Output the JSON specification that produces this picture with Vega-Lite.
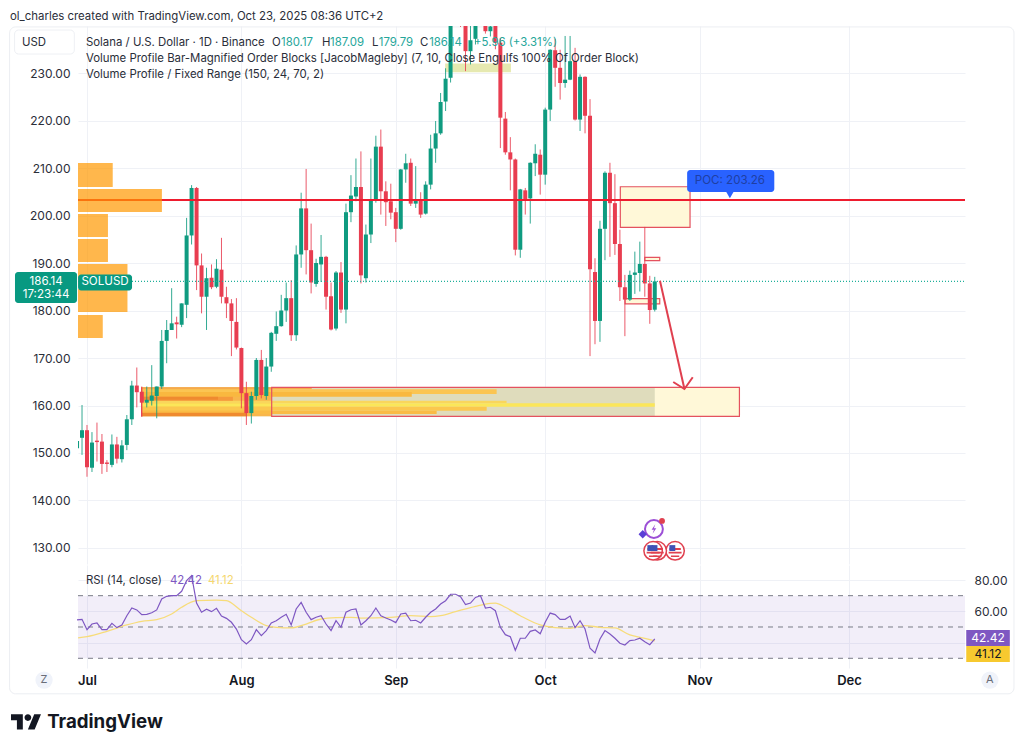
{"$schema":"https://vega.github.io/schema/vega-lite/v6.json","background":"white","padding":{"left":9,"top":10,"right":9,"bottom":9},"bounds":"flush","spacing":1,"config":{"view":{"stroke":null},"font":"Inter","axis":{"labelFont":"Inter"}},"datasets":{"candles":[{"d":"2025-06-29","o":151,"h":153.4,"l":150.6,"c":152.5},{"d":"2025-06-30","o":153.2,"h":160.1,"l":149.6,"c":154.8},{"d":"2025-07-01","o":154.8,"h":155.9,"l":145,"c":147},{"d":"2025-07-02","o":146.9,"h":154.4,"l":146,"c":152.2},{"d":"2025-07-03","o":152.6,"h":156.4,"l":148.2,"c":152.3},{"d":"2025-07-04","o":152.4,"h":154,"l":145.6,"c":147.7},{"d":"2025-07-05","o":148,"h":148.5,"l":146,"c":147.7},{"d":"2025-07-06","o":147.5,"h":153.9,"l":147,"c":151.8},{"d":"2025-07-07","o":151.8,"h":153.4,"l":147.8,"c":148.8},{"d":"2025-07-08","o":148.7,"h":152.7,"l":148,"c":151.6},{"d":"2025-07-09","o":151.7,"h":158,"l":150.6,"c":157.1},{"d":"2025-07-10","o":157.1,"h":165.2,"l":155.9,"c":164.2},{"d":"2025-07-11","o":164.2,"h":168,"l":159.6,"c":162.8},{"d":"2025-07-12","o":162.9,"h":164,"l":157.6,"c":160.6},{"d":"2025-07-13","o":160.6,"h":164,"l":159.6,"c":161.2},{"d":"2025-07-14","o":161,"h":168.5,"l":160,"c":162.1},{"d":"2025-07-15","o":162,"h":164,"l":157.3,"c":164},{"d":"2025-07-16","o":164,"h":175.9,"l":163.5,"c":173.6},{"d":"2025-07-17","o":173.6,"h":178,"l":168.9,"c":175.9},{"d":"2025-07-18","o":175.9,"h":184.7,"l":175.9,"c":177.3},{"d":"2025-07-19","o":177.5,"h":178.7,"l":174.1,"c":177.1},{"d":"2025-07-20","o":177,"h":181.5,"l":176.5,"c":181.5},{"d":"2025-07-21","o":181.2,"h":199.5,"l":178.4,"c":195.8},{"d":"2025-07-22","o":195.8,"h":206.4,"l":193.9,"c":205.8},{"d":"2025-07-23","o":205.8,"h":206,"l":184.3,"c":189.5},{"d":"2025-07-24","o":189.5,"h":192,"l":179.4,"c":182.9},{"d":"2025-07-25","o":182.9,"h":189,"l":175.9,"c":186.8},{"d":"2025-07-26","o":186.9,"h":189.7,"l":184.5,"c":184.9},{"d":"2025-07-27","o":185,"h":190.8,"l":184.7,"c":188.8},{"d":"2025-07-28","o":188.6,"h":195.3,"l":181.5,"c":182.9},{"d":"2025-07-29","o":182.8,"h":185,"l":178.4,"c":181.5},{"d":"2025-07-30","o":181.5,"h":182.4,"l":170.4,"c":177.8},{"d":"2025-07-31","o":177.6,"h":182.6,"l":171.8,"c":172.2},{"d":"2025-08-01","o":172.1,"h":172.2,"l":159.4,"c":162.6},{"d":"2025-08-02","o":162.6,"h":165,"l":155.9,"c":158.4},{"d":"2025-08-03","o":158.4,"h":162.9,"l":156.2,"c":162},{"d":"2025-08-04","o":162,"h":170,"l":161.2,"c":169.6},{"d":"2025-08-05","o":169.6,"h":171.7,"l":161.5,"c":162.2},{"d":"2025-08-06","o":162,"h":170,"l":161.2,"c":168.2},{"d":"2025-08-07","o":168.2,"h":175.5,"l":167.1,"c":175.3},{"d":"2025-08-08","o":175.1,"h":179.8,"l":173.6,"c":176.7},{"d":"2025-08-09","o":176.7,"h":183.3,"l":176.6,"c":180},{"d":"2025-08-10","o":180,"h":185.9,"l":177.6,"c":182.6},{"d":"2025-08-11","o":182.6,"h":186.4,"l":173.6,"c":174.8},{"d":"2025-08-12","o":174.8,"h":193.7,"l":173.6,"c":191.8},{"d":"2025-08-13","o":191.8,"h":204.8,"l":189,"c":201.5},{"d":"2025-08-14","o":201.5,"h":209.8,"l":187.6,"c":192.7},{"d":"2025-08-15","o":192.7,"h":198.3,"l":183.6,"c":185.9},{"d":"2025-08-16","o":185.6,"h":190.9,"l":185,"c":190},{"d":"2025-08-17","o":189.7,"h":195.9,"l":186,"c":191.3},{"d":"2025-08-18","o":191.3,"h":191.5,"l":180.2,"c":182.9},{"d":"2025-08-19","o":183,"h":185.9,"l":175.8,"c":176},{"d":"2025-08-20","o":176.2,"h":188.3,"l":175.8,"c":188},{"d":"2025-08-21","o":188,"h":190.2,"l":179.5,"c":180.2},{"d":"2025-08-22","o":180.2,"h":202.5,"l":177.3,"c":200.7},{"d":"2025-08-23","o":200.7,"h":208.5,"l":198.6,"c":204.2},{"d":"2025-08-24","o":204,"h":212,"l":203,"c":206},{"d":"2025-08-25","o":206,"h":213.5,"l":185.7,"c":187.4},{"d":"2025-08-26","o":186.8,"h":198.1,"l":185.9,"c":196},{"d":"2025-08-27","o":196,"h":212,"l":194.2,"c":203.4},{"d":"2025-08-28","o":203.2,"h":216.8,"l":202.7,"c":214.5},{"d":"2025-08-29","o":214.5,"h":218.1,"l":200.2,"c":205.1},{"d":"2025-08-30","o":205.1,"h":207.2,"l":197.8,"c":202.8},{"d":"2025-08-31","o":203,"h":206.7,"l":199.2,"c":200.6},{"d":"2025-09-01","o":200.7,"h":201.6,"l":194.4,"c":197.2},{"d":"2025-09-02","o":197.2,"h":209.8,"l":197,"c":209.7},{"d":"2025-09-03","o":209.7,"h":213,"l":206.9,"c":211},{"d":"2025-09-04","o":211.1,"h":212,"l":202,"c":202.5},{"d":"2025-09-05","o":202.5,"h":210.4,"l":201.6,"c":203.4},{"d":"2025-09-06","o":203.4,"h":204.9,"l":199.5,"c":200.2},{"d":"2025-09-07","o":200.4,"h":207.2,"l":200.2,"c":206.5},{"d":"2025-09-08","o":206.5,"h":217,"l":205.5,"c":214.1},{"d":"2025-09-09","o":214.1,"h":219.9,"l":211.1,"c":217.3},{"d":"2025-09-10","o":217.3,"h":225.8,"l":217,"c":223.9},{"d":"2025-09-11","o":224,"h":231,"l":222,"c":228.8},{"d":"2025-09-12","o":229,"h":246,"l":228,"c":241},{"d":"2025-09-13","o":241,"h":247,"l":240.5,"c":244},{"d":"2025-09-14","o":244,"h":246,"l":239.7,"c":241.5},{"d":"2025-09-15","o":241.5,"h":245,"l":230.4,"c":234.6},{"d":"2025-09-16","o":234.6,"h":240,"l":231.8,"c":236.9},{"d":"2025-09-17","o":237.2,"h":249,"l":236,"c":243},{"d":"2025-09-18","o":243,"h":250,"l":241,"c":246},{"d":"2025-09-19","o":244,"h":248,"l":238.3,"c":238.8},{"d":"2025-09-20","o":238.8,"h":243,"l":237.7,"c":239.8},{"d":"2025-09-21","o":241,"h":244,"l":235,"c":236.4},{"d":"2025-09-22","o":236.4,"h":237.4,"l":214.2,"c":220.6},{"d":"2025-09-23","o":220.4,"h":221.8,"l":212.8,"c":213.3},{"d":"2025-09-24","o":213.3,"h":216.5,"l":205.3,"c":211.8},{"d":"2025-09-25","o":211.8,"h":212,"l":191.6,"c":192.8},{"d":"2025-09-26","o":192.8,"h":205.6,"l":191.1,"c":205.5},{"d":"2025-09-27","o":205.3,"h":205.8,"l":200.2,"c":203.4},{"d":"2025-09-28","o":203.6,"h":211.2,"l":198.3,"c":211.1},{"d":"2025-09-29","o":211,"h":215,"l":208.3,"c":213},{"d":"2025-09-30","o":212.8,"h":213.9,"l":204.4,"c":208.6},{"d":"2025-10-01","o":208.6,"h":222.7,"l":206.5,"c":222.3},{"d":"2025-10-02","o":222.3,"h":235,"l":219.9,"c":234.9},{"d":"2025-10-03","o":234.8,"h":237.2,"l":227.1,"c":231.1},{"d":"2025-10-04","o":231.1,"h":234.9,"l":224.4,"c":227.9},{"d":"2025-10-05","o":227.9,"h":237.8,"l":226.9,"c":228.6},{"d":"2025-10-06","o":228.6,"h":237.8,"l":228.5,"c":232.5},{"d":"2025-10-07","o":232.5,"h":235.3,"l":220,"c":220.2},{"d":"2025-10-08","o":220.2,"h":229.7,"l":217.8,"c":229.2},{"d":"2025-10-09","o":229.2,"h":229.3,"l":217.3,"c":221},{"d":"2025-10-10","o":221,"h":224.5,"l":170.4,"c":188.7},{"d":"2025-10-11","o":188.1,"h":191,"l":172.9,"c":177.8},{"d":"2025-10-12","o":177.8,"h":198.9,"l":173.4,"c":197.2},{"d":"2025-10-13","o":197.2,"h":209.3,"l":190.6,"c":209},{"d":"2025-10-14","o":209,"h":211.1,"l":191.3,"c":202.6},{"d":"2025-10-15","o":202.6,"h":208.7,"l":191.7,"c":194},{"d":"2025-10-16","o":194,"h":197,"l":182,"c":184.9},{"d":"2025-10-17","o":184.9,"h":187.5,"l":174.6,"c":182.3},{"d":"2025-10-18","o":182.3,"h":188.4,"l":182,"c":187.5},{"d":"2025-10-19","o":187.5,"h":192.4,"l":183.5,"c":188},{"d":"2025-10-20","o":187.9,"h":194.5,"l":184,"c":189.8},{"d":"2025-10-21","o":189.8,"h":197.6,"l":182.9,"c":185.7},{"d":"2025-10-22","o":185.7,"h":187.3,"l":177.2,"c":180.1},{"d":"2025-10-23","o":180.17,"h":187.09,"l":179.79,"c":186.14}],"rsi":[{"d":"2025-06-29","v":54.5},{"d":"2025-06-30","v":54.9},{"d":"2025-07-01","v":48.3},{"d":"2025-07-02","v":51.9},{"d":"2025-07-03","v":52.6},{"d":"2025-07-04","v":48.3},{"d":"2025-07-05","v":48.3},{"d":"2025-07-06","v":52.3},{"d":"2025-07-07","v":49.6},{"d":"2025-07-08","v":51.3},{"d":"2025-07-09","v":57.2},{"d":"2025-07-10","v":62.1},{"d":"2025-07-11","v":60.9},{"d":"2025-07-12","v":57.9},{"d":"2025-07-13","v":58.1},{"d":"2025-07-14","v":59.1},{"d":"2025-07-15","v":60.9},{"d":"2025-07-16","v":67.9},{"d":"2025-07-17","v":69.6},{"d":"2025-07-18","v":70},{"d":"2025-07-19","v":70},{"d":"2025-07-20","v":72.8},{"d":"2025-07-21","v":79.6},{"d":"2025-07-22","v":82.8},{"d":"2025-07-23","v":65.3},{"d":"2025-07-24","v":59.4},{"d":"2025-07-25","v":61.3},{"d":"2025-07-26","v":59.8},{"d":"2025-07-27","v":61.9},{"d":"2025-07-28","v":57},{"d":"2025-07-29","v":55.5},{"d":"2025-07-30","v":53},{"d":"2025-07-31","v":48.7},{"d":"2025-08-01","v":41.9},{"d":"2025-08-02","v":39.1},{"d":"2025-08-03","v":41.9},{"d":"2025-08-04","v":48.3},{"d":"2025-08-05","v":44.5},{"d":"2025-08-06","v":47.7},{"d":"2025-08-07","v":52.6},{"d":"2025-08-08","v":54},{"d":"2025-08-09","v":56.2},{"d":"2025-08-10","v":58.1},{"d":"2025-08-11","v":51.3},{"d":"2025-08-12","v":61.5},{"d":"2025-08-13","v":65.7},{"d":"2025-08-14","v":59.4},{"d":"2025-08-15","v":54.7},{"d":"2025-08-16","v":56.2},{"d":"2025-08-17","v":57.2},{"d":"2025-08-18","v":51.9},{"d":"2025-08-19","v":47.7},{"d":"2025-08-20","v":54},{"d":"2025-08-21","v":49.8},{"d":"2025-08-22","v":59.4},{"d":"2025-08-23","v":61},{"d":"2025-08-24","v":61.5},{"d":"2025-08-25","v":51.3},{"d":"2025-08-26","v":54},{"d":"2025-08-27","v":57.2},{"d":"2025-08-28","v":62.1},{"d":"2025-08-29","v":57.2},{"d":"2025-08-30","v":55.7},{"d":"2025-08-31","v":54.5},{"d":"2025-09-01","v":52.8},{"d":"2025-09-02","v":58.3},{"d":"2025-09-03","v":58.9},{"d":"2025-09-04","v":54},{"d":"2025-09-05","v":54.3},{"d":"2025-09-06","v":52.6},{"d":"2025-09-07","v":56.2},{"d":"2025-09-08","v":59.4},{"d":"2025-09-09","v":61.5},{"d":"2025-09-10","v":64.7},{"d":"2025-09-11","v":66.8},{"d":"2025-09-12","v":70.9},{"d":"2025-09-13","v":70.9},{"d":"2025-09-14","v":69.4},{"d":"2025-09-15","v":64.3},{"d":"2025-09-16","v":65.3},{"d":"2025-09-17","v":68.9},{"d":"2025-09-18","v":70},{"d":"2025-09-19","v":62.1},{"d":"2025-09-20","v":62.6},{"d":"2025-09-21","v":60.4},{"d":"2025-09-22","v":49.8},{"d":"2025-09-23","v":45.1},{"d":"2025-09-24","v":43.8},{"d":"2025-09-25","v":35.1},{"d":"2025-09-26","v":42.8},{"d":"2025-09-27","v":42.8},{"d":"2025-09-28","v":47.2},{"d":"2025-09-29","v":48.1},{"d":"2025-09-30","v":45.7},{"d":"2025-10-01","v":53},{"d":"2025-10-02","v":58.9},{"d":"2025-10-03","v":57.9},{"d":"2025-10-04","v":54.9},{"d":"2025-10-05","v":54.9},{"d":"2025-10-06","v":57},{"d":"2025-10-07","v":49.6},{"d":"2025-10-08","v":54},{"d":"2025-10-09","v":48.7},{"d":"2025-10-10","v":36.4},{"d":"2025-10-11","v":33.4},{"d":"2025-10-12","v":42.3},{"d":"2025-10-13","v":47.7},{"d":"2025-10-14","v":45.5},{"d":"2025-10-15","v":42.8},{"d":"2025-10-16","v":39.6},{"d":"2025-10-17","v":38.5},{"d":"2025-10-18","v":41.3},{"d":"2025-10-19","v":41.7},{"d":"2025-10-20","v":42.8},{"d":"2025-10-21","v":40.6},{"d":"2025-10-22","v":38.7},{"d":"2025-10-23","v":42.42}],"rsima":[{"d":"2025-06-29T05:00:00Z","v":43},{"d":"2025-07-01","v":43.8},{"d":"2025-07-05","v":47.2},{"d":"2025-07-09","v":51.3},{"d":"2025-07-12","v":53.6},{"d":"2025-07-15","v":54.7},{"d":"2025-07-18","v":58.3},{"d":"2025-07-20","v":62.6},{"d":"2025-07-23","v":66.8},{"d":"2025-07-27","v":67.2},{"d":"2025-07-29","v":66.8},{"d":"2025-08-01","v":60.4},{"d":"2025-08-03","v":56.2},{"d":"2025-08-06","v":50.9},{"d":"2025-08-08","v":49.8},{"d":"2025-08-11","v":49.4},{"d":"2025-08-14","v":51.9},{"d":"2025-08-17","v":55.1},{"d":"2025-08-20","v":56},{"d":"2025-08-23","v":56.2},{"d":"2025-08-25","v":55.7},{"d":"2025-08-31","v":56.2},{"d":"2025-09-04","v":57.2},{"d":"2025-09-08","v":56.6},{"d":"2025-09-10","v":57.2},{"d":"2025-09-13","v":59.8},{"d":"2025-09-17","v":63.2},{"d":"2025-09-20","v":65.1},{"d":"2025-09-21","v":65.3},{"d":"2025-09-23","v":62.6},{"d":"2025-09-26","v":57.2},{"d":"2025-09-30","v":51.3},{"d":"2025-10-03","v":49.6},{"d":"2025-10-06","v":49.1},{"d":"2025-10-09","v":50.9},{"d":"2025-10-12","v":49.8},{"d":"2025-10-15","v":49.4},{"d":"2025-10-18","v":44.9},{"d":"2025-10-21","v":42.8},{"d":"2025-10-23","v":41.12}],"zones":[{"s":"2025-09-10T22:00:00Z","e":"2025-09-24T03:00:00Z","p1":232,"p2":230.15,"kind":"block"},{"s":"2025-10-16T02:00:00Z","e":"2025-10-30T02:00:00Z","p1":206.06,"p2":197.5,"kind":"cream"},{"s":"2025-10-21T00:00:00Z","e":"2025-10-24T00:00:00Z","p1":191.2,"p2":190.5,"kind":"cream"},{"s":"2025-10-17T01:00:00Z","e":"2025-10-24T00:00:00Z","p1":182.5,"p2":181.4,"kind":"cream"},{"s":"2025-08-07T02:00:00Z","e":"2025-11-09T00:00:00Z","p1":163.83,"p2":157.73,"kind":"cream"},{"s":"2025-07-11T23:00:00Z","e":"2025-10-23T00:00:00Z","p1":163.83,"p2":157.73,"kind":"gray"},{"s":"2025-07-11T23:00:00Z","e":"2025-08-07T02:00:00Z","p1":163.83,"p2":157.73,"kind":"left"},{"s":"2025-07-11T23:00:00Z","e":"2025-08-15T03:00:00Z","p1":163.83,"p2":163.41,"kind":"top"},{"s":"2025-07-11T23:00:00Z","e":"2025-09-21T06:00:00Z","p1":163.41,"p2":162.42,"kind":"amber"},{"s":"2025-07-11T23:00:00Z","e":"2025-09-04T05:00:00Z","p1":162.84,"p2":161.85,"kind":"deep"},{"s":"2025-07-11T23:00:00Z","e":"2025-09-23T06:00:00Z","p1":161.01,"p2":160.46,"kind":"pale"},{"s":"2025-07-11T23:00:00Z","e":"2025-10-23T00:00:00Z","p1":160.46,"p2":159.75,"kind":"bright"},{"s":"2025-07-11T23:00:00Z","e":"2025-09-19T06:00:00Z","p1":159.75,"p2":158.91,"kind":"gold"},{"s":"2025-07-11T23:00:00Z","e":"2025-09-09T05:00:00Z","p1":158.91,"p2":158.21,"kind":"orange"},{"s":"2025-07-11T23:00:00Z","e":"2025-07-30T07:00:00Z","p1":161.85,"p2":161.01,"kind":"mid"},{"s":"2025-07-11T23:00:00Z","e":"2025-07-27T07:00:00Z","p1":161.85,"p2":161.2,"kind":"dark"},{"s":"2025-07-11T23:00:00Z","e":"2025-08-02T02:00:00Z","p1":158.48,"p2":157.73,"kind":"dark"}],"boxes":[{"s":"2025-10-16T02:00:00Z","e":"2025-10-30T02:00:00Z","p1":206.06,"p2":197.5},{"s":"2025-10-21T00:00:00Z","e":"2025-10-24T00:00:00Z","p1":191.2,"p2":190.5},{"s":"2025-10-17T01:00:00Z","e":"2025-10-24T00:00:00Z","p1":182.5,"p2":181.4},{"s":"2025-08-07T02:00:00Z","e":"2025-11-09T00:00:00Z","p1":163.83,"p2":157.73}],"boxEdge":[{"d":"2025-07-11T23:00:00Z","p1":163.83,"p2":157.73}],"profile":[{"s":"2025-06-29T04:38:00Z","e":"2025-07-06T04:00:00Z","p1":211.05,"p2":206},{"s":"2025-06-29T04:38:00Z","e":"2025-07-16T01:00:00Z","p1":205.58,"p2":200.74},{"s":"2025-06-29T04:38:00Z","e":"2025-07-05T05:00:00Z","p1":200.32,"p2":195.47},{"s":"2025-06-29T04:38:00Z","e":"2025-07-05T05:00:00Z","p1":195.05,"p2":190.21},{"s":"2025-06-29T04:38:00Z","e":"2025-07-09T03:00:00Z","p1":189.79,"p2":184.95},{"s":"2025-06-29T04:38:00Z","e":"2025-07-09T03:00:00Z","p1":184.53,"p2":179.68},{"s":"2025-06-29T04:38:00Z","e":"2025-07-04T04:00:00Z","p1":179.05,"p2":174.21}],"levels":[{"name":"POC","s":"2025-06-29T04:38:00Z","e":"2025-12-24T07:00:00Z","p":203.26},{"name":"last","s":"2025-06-29T04:38:00Z","e":"2025-12-24T07:00:00Z","p":186.14}],"arrow":[{"part":"shaft","d":"2025-10-24T01:00:00Z","p":186.27},{"part":"shaft","d":"2025-10-28T23:00:00Z","p":163.47},{"part":"head","d":"2025-10-26T17:00:00Z","p":164.95},{"part":"head","d":"2025-10-28T23:00:00Z","p":163.47},{"part":"head","d":"2025-10-30T15:00:00Z","p":165.94}],"tags":[{"s":"2025-10-29T12:00:00Z","e":"2025-11-16T00:00:00Z","p1":209.6,"p2":204.95,"kind":"poc"},{"s":"2025-06-16T13:00:00Z","e":"2025-06-29T00:00:00Z","p1":188.1,"p2":181.6,"kind":"price"},{"s":"2025-06-29T05:00:00Z","e":"2025-07-10T01:00:00Z","p1":187.6,"p2":184.2,"kind":"price"}],"notes":[{"d":"2025-06-15T13:00:00Z","p":242.2,"t":"ol_charles created with TradingView.com, Oct 23, 2025 08:36 UTC+2","tone":"ink"},{"d":"2025-06-17T23:00:00Z","p":236.7,"t":"USD","tone":"ink"},{"d":"2025-06-30T19:00:00Z","p":236.74,"t":"Solana / U.S. Dollar · 1D · Binance","tone":"ink"},{"d":"2025-08-07T04:00:00Z","p":236.74,"t":"O","tone":"ink"},{"d":"2025-08-08T23:00:00Z","p":236.74,"t":"180.17","tone":"up"},{"d":"2025-08-17T05:00:00Z","p":236.74,"t":"H","tone":"ink"},{"d":"2025-08-18T19:00:00Z","p":236.74,"t":"187.09","tone":"up"},{"d":"2025-08-27T05:00:00Z","p":236.74,"t":"L","tone":"ink"},{"d":"2025-08-28T14:00:00Z","p":236.74,"t":"179.79","tone":"up"},{"d":"2025-09-05T21:00:00Z","p":236.74,"t":"C","tone":"ink"},{"d":"2025-09-07T17:00:00Z","p":236.74,"t":"186.14","tone":"up"},{"d":"2025-09-16T17:00:00Z","p":236.74,"t":"+5.96 (+3.31%)","tone":"up"},{"d":"2025-06-30T19:00:00Z","p":233.37,"t":"Volume Profile Bar-Magnified Order Blocks [JacobMagleby] (7, 10, Close Engulfs 100% Of Order Block)","tone":"ink"},{"d":"2025-06-30T19:00:00Z","p":230,"t":"Volume Profile / Fixed Range (150, 24, 70, 2)","tone":"ink"}],"centered":[{"d":"2025-11-07T02:00:00Z","p":207.26,"t":"POC: 203.26","tone":"navy"},{"d":"2025-06-22T19:00:00Z","p":186.1,"t":"186.14","tone":"white"},{"d":"2025-06-22T19:00:00Z","p":183.26,"t":"17:23:44","tone":"white"},{"d":"2025-07-04T15:00:00Z","p":186,"t":"SOLUSD","tone":"white"}],"card":[{"s":"2025-06-15T11:00:00Z","e":"2026-01-03T03:00:00Z","p1":239.7,"p2":99.3,"name":"card"},{"s":"2025-06-16T11:00:00Z","e":"2025-06-28T11:00:00Z","p1":239.05,"p2":234,"name":"usd"}],"brand":[{"d":"2025-06-23T00:00:00Z","p":93.4,"t":"TradingView"}],"logo":[{"d":"2025-06-18T19:00:00Z","p":93.4}],"flags":[{"d":"2025-10-27T02:00:00Z","p":129.4},{"d":"2025-10-23T12:00:00Z","p":129.4},{"d":"2025-10-22T16:00:00Z","p":129.4}],"spark":[{"d":"2025-10-22T20:00:00Z","p":134}],"sparkdot":[{"d":"2025-10-24T11:00:00Z","p":135.7,"kind":"dot"},{"d":"2025-10-20T14:00:00Z","p":132.9,"kind":"star"}],"rsiNotes":[{"d":"2025-06-30T19:00:00Z","v":80,"t":"RSI (14, close)","tone":"ink"},{"d":"2025-07-17T16:00:00Z","v":80,"t":"42.42","tone":"rsi"},{"d":"2025-07-25T07:00:00Z","v":80,"t":"41.12","tone":"ma"}],"rsiBand":[{"s":"2025-06-29T04:38:00Z","e":"2025-12-24T07:00:00Z","a":70,"b":30}],"rsiLevels":[{"s":"2025-06-29T04:38:00Z","e":"2025-12-24T07:00:00Z","v":70},{"s":"2025-06-29T04:38:00Z","e":"2025-12-24T07:00:00Z","v":50},{"s":"2025-06-29T04:38:00Z","e":"2025-12-24T07:00:00Z","v":30}],"rsiBadges":[{"s":"2025-12-24T13:00:00Z","e":"2026-01-02T07:00:00Z","a":48.1,"b":37.9,"kind":"rsi"},{"s":"2025-12-24T13:00:00Z","e":"2026-01-02T07:00:00Z","a":37.9,"b":27.6,"kind":"ma"}],"rsiBadgeText":[{"d":"2025-12-28T22:00:00Z","v":43,"t":"42.42","tone":"white"},{"d":"2025-12-28T22:00:00Z","v":32.75,"t":"41.12","tone":"ink"}],"corner":[{"d":"2025-06-22T09:00:00Z","v":16.1,"t":"Z"},{"d":"2025-12-29T07:00:00Z","v":16.1,"t":"A"}]},"vconcat":[{"width":887,"height":538,"encoding":{"x":{"field":"d","type":"temporal","title":null,"scale":{"type":"utc","nice":false,"padding":0,"domain":["2025-06-29T04:38:00Z","2025-12-24T07:00:00Z"]},"axis":{"labels":false,"ticks":false,"domain":false,"grid":true,"gridColor":"#eff1f6","tickCount":"month"}},"y":{"field":"p","type":"quantitative","title":null,"scale":{"domain":[126.63,239.9],"nice":false,"zero":false},"axis":{"values":[130,140,150,160,170,180,190,200,210,220,230],"format":".2f","ticks":false,"domain":false,"grid":true,"gridColor":"#eff1f6","labelColor":"#2a2e39","labelFontSize":12,"labelPadding":8}}},"resolve":{"scale":{"color":"independent"}},"layer":[{"data":{"name":"card"},"transform":[{"filter":"datum.name=='card'"}],"mark":{"type":"rect","fill":null,"stroke":"#eceef2","strokeWidth":1,"cornerRadius":6},"encoding":{"x":{"field":"s","type":"temporal"},"x2":{"field":"e"},"y":{"field":"p1","type":"quantitative"},"y2":{"field":"p2"}}},{"data":{"name":"zones"},"mark":{"type":"rect"},"encoding":{"x":{"field":"s","type":"temporal"},"x2":{"field":"e"},"y":{"field":"p1","type":"quantitative"},"y2":{"field":"p2"},"color":{"field":"kind","type":"nominal","legend":null,"scale":{"domain":["block","cream","gray","left","top","amber","deep","pale","bright","gold","orange","mid","dark"],"range":["#e6e9b0","#fff8d8","#dfdcbc","#f8b64c","#f6a94c","#fbc552","#f9b83f","#f9d65c","#fbe659","#fbc74e","#fabb45","#f59a3c","#ef8a2f"]}}}},{"data":{"name":"boxes"},"mark":{"type":"rect","fill":null,"stroke":"#e4525f","strokeWidth":1.2},"encoding":{"x":{"field":"s","type":"temporal"},"x2":{"field":"e"},"y":{"field":"p1","type":"quantitative"},"y2":{"field":"p2"}}},{"data":{"name":"boxEdge"},"mark":{"type":"rule","color":"#e4525f","strokeWidth":1.2},"encoding":{"y":{"field":"p1","type":"quantitative"},"y2":{"field":"p2"}}},{"data":{"name":"candles"},"mark":{"type":"rule","clip":true,"strokeWidth":1,"opacity":0.85},"encoding":{"y":{"field":"l","type":"quantitative"},"y2":{"field":"h"},"color":{"condition":{"test":"datum.c>=datum.o","value":"#0f9b80"},"value":"#e83d50"}}},{"data":{"name":"candles"},"mark":{"type":"bar","clip":true,"size":4,"orient":"vertical"},"encoding":{"y":{"field":"o","type":"quantitative"},"y2":{"field":"c"},"color":{"condition":{"test":"datum.c>=datum.o","value":"#0f9b80"},"value":"#e83d50"}}},{"data":{"name":"levels"},"transform":[{"filter":"datum.name=='last'"}],"mark":{"type":"rule","color":"#1fb09a","strokeWidth":1.1,"strokeDash":[1,2]},"encoding":{"x":{"field":"s","type":"temporal"},"x2":{"field":"e"},"y":{"field":"p","type":"quantitative"}}},{"data":{"name":"levels"},"transform":[{"filter":"datum.name=='POC'"}],"mark":{"type":"rule","color":"#ee1c2e","strokeWidth":2},"encoding":{"x":{"field":"s","type":"temporal"},"x2":{"field":"e"},"y":{"field":"p","type":"quantitative"}}},{"data":{"name":"arrow"},"mark":{"type":"line","color":"#e0404f","strokeWidth":2},"encoding":{"detail":{"field":"part"}}},{"data":{"name":"profile"},"mark":{"type":"rect","color":"#ff9800","opacity":0.7},"encoding":{"x":{"field":"s","type":"temporal"},"x2":{"field":"e"},"y":{"field":"p1","type":"quantitative"},"y2":{"field":"p2"}}},{"data":{"name":"card"},"transform":[{"filter":"datum.name=='usd'"}],"mark":{"type":"rect","fill":"white","stroke":"#eef0f4","cornerRadius":4},"encoding":{"x":{"field":"s","type":"temporal"},"x2":{"field":"e"},"y":{"field":"p1","type":"quantitative"},"y2":{"field":"p2"}}},{"data":{"name":"tags"},"mark":{"type":"rect","cornerRadius":3},"encoding":{"x":{"field":"s","type":"temporal"},"x2":{"field":"e"},"y":{"field":"p1","type":"quantitative"},"y2":{"field":"p2"},"color":{"field":"kind","type":"nominal","legend":null,"scale":{"domain":["poc","price"],"range":["#2962ff","#089981"]}}}},{"data":{"values":[{"d":"2025-11-07T02:00:00Z","p":204.4}]},"mark":{"type":"point","shape":"triangle-down","filled":true,"color":"#2962ff","size":70,"opacity":1}},{"data":{"name":"flags"},"mark":{"type":"point","shape":"circle","filled":true,"fill":"white","stroke":"#e0404f","strokeWidth":1.5,"size":340,"opacity":1}},{"data":{"name":"flags"},"mark":{"type":"point","shape":"M-0.62 -0.3H0.62V-0.08H-0.62ZM-0.7 0.1H0.7V0.3H-0.7ZM-0.45 0.5H0.45V0.68H-0.45Z","filled":true,"color":"#e0404f","size":340,"opacity":1}},{"data":{"name":"flags"},"mark":{"type":"point","shape":"M-0.62 -0.62H0.02V0.02H-0.62Z","filled":true,"color":"#3f51b5","size":340,"opacity":1}},{"data":{"name":"spark"},"mark":{"type":"point","shape":"circle","filled":false,"stroke":"#9c4fd6","strokeWidth":2,"size":320,"opacity":1}},{"data":{"name":"spark"},"mark":{"type":"point","shape":"M0.2 -0.7L-0.35 0.1H0L-0.2 0.7L0.35 -0.1H0Z","filled":true,"color":"#9c4fd6","size":180,"opacity":1}},{"data":{"name":"sparkdot"},"transform":[{"filter":"datum.kind=='dot'"}],"mark":{"type":"point","shape":"circle","filled":true,"color":"#e0404f","size":34,"opacity":1}},{"data":{"name":"sparkdot"},"transform":[{"filter":"datum.kind=='star'"}],"mark":{"type":"point","shape":"diamond","filled":true,"color":"#5b3fd6","size":70,"opacity":1}},{"data":{"name":"notes"},"mark":{"type":"text","align":"left","baseline":"middle","fontSize":11.4,"dy":1.5},"encoding":{"text":{"field":"t"},"color":{"field":"tone","type":"nominal","legend":null,"scale":{"domain":["ink","up"],"range":["#2a2e39","#26a69a"]}}}},{"data":{"name":"centered"},"mark":{"type":"text","align":"center","baseline":"middle","fontSize":11.6},"encoding":{"text":{"field":"t"},"color":{"field":"tone","type":"nominal","legend":null,"scale":{"domain":["navy","white"],"range":["#1f3fa3","#ffffff"]}}}},{"data":{"name":"brand"},"mark":{"type":"text","align":"left","baseline":"middle","fontSize":18.7,"fontWeight":700,"color":"#131722","font":"Inter"},"encoding":{"text":{"field":"t"}}},{"data":{"name":"logo"},"mark":{"type":"point","shape":"M-0.222 0.5H-0.611V-0.111H-1V-0.5H-0.222ZM0.556 0.5H0.111L0.528 -0.5H0.972ZM-0.111 -0.278a0.222 0.222 0 1 0 0.444 0a0.222 0.222 0 1 0 -0.444 0Z","filled":true,"color":"#131722","size":924,"opacity":1}}]},{"width":887,"height":103,"encoding":{"x":{"field":"d","type":"temporal","title":null,"scale":{"type":"utc","nice":false,"padding":0,"domain":["2025-06-29T04:38:00Z","2025-12-24T07:00:00Z"]},"axis":{"format":"%b","tickCount":"month","ticks":false,"domain":false,"grid":true,"gridColor":"#eff1f6","labelColor":"#131722","labelFontSize":13,"labelFontWeight":600,"labelPadding":6}},"y":{"field":"v","type":"quantitative","title":null,"scale":{"domain":[23.8,89.6],"nice":false,"zero":false},"axis":{"orient":"right","values":[40,60,80],"labelExpr":"datum.value==40?'':format(datum.value,'.2f')","ticks":false,"domain":false,"grid":true,"gridColor":"#eff1f6","labelColor":"#2a2e39","labelFontSize":12,"labelPadding":9}}},"resolve":{"scale":{"color":"independent"}},"layer":[{"data":{"name":"rsiBand"},"mark":{"type":"rect","color":"#7e57c2","opacity":0.1},"encoding":{"x":{"field":"s","type":"temporal"},"x2":{"field":"e"},"y":{"field":"a","type":"quantitative"},"y2":{"field":"b"}}},{"data":{"name":"rsiLevels"},"mark":{"type":"rule","color":"#787b86","strokeWidth":1,"strokeDash":[5,5]},"encoding":{"x":{"field":"s","type":"temporal"},"x2":{"field":"e"}}},{"data":{"name":"rsima"},"mark":{"type":"line","color":"#f7dc7a","strokeWidth":1.3,"interpolate":"monotone"}},{"data":{"name":"rsi"},"mark":{"type":"line","color":"#7e57c2","strokeWidth":1.2}},{"data":{"name":"rsiBadges"},"mark":{"type":"rect"},"encoding":{"x":{"field":"s","type":"temporal"},"x2":{"field":"e"},"y":{"field":"a","type":"quantitative"},"y2":{"field":"b"},"color":{"field":"kind","type":"nominal","legend":null,"scale":{"domain":["rsi","ma"],"range":["#7e57c2","#f7c92f"]}}}},{"data":{"name":"rsiBadgeText"},"mark":{"type":"text","align":"center","baseline":"middle","fontSize":12},"encoding":{"text":{"field":"t"},"color":{"field":"tone","type":"nominal","legend":null,"scale":{"domain":["white","ink"],"range":["#ffffff","#131722"]}}}},{"data":{"name":"rsiNotes"},"mark":{"type":"text","align":"left","baseline":"middle","fontSize":11.4,"dy":1},"encoding":{"text":{"field":"t"},"color":{"field":"tone","type":"nominal","legend":null,"scale":{"domain":["ink","rsi","ma"],"range":["#2a2e39","#7e57c2","#f5d76e"]}}}},{"data":{"name":"corner"},"mark":{"type":"point","shape":"circle","filled":true,"color":"#f0f3fa","size":300,"opacity":1}},{"data":{"name":"corner"},"mark":{"type":"text","align":"center","baseline":"middle","fontSize":11,"color":"#6a6d78"},"encoding":{"text":{"field":"t"}}}]}]}
